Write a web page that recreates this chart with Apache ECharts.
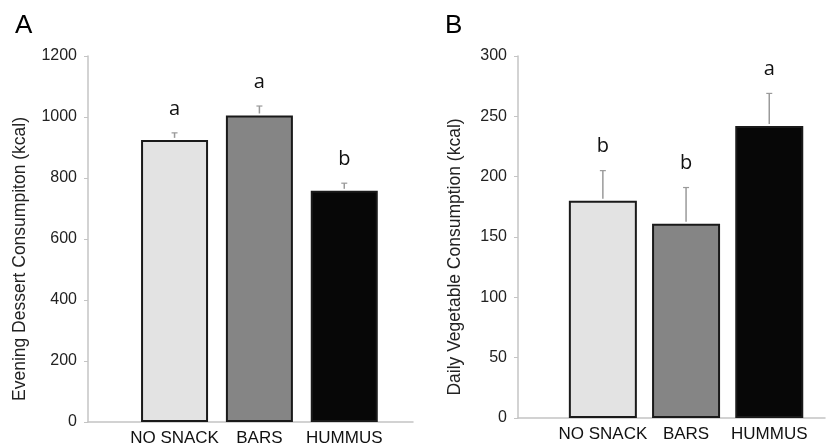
<!DOCTYPE html>
<html><head><meta charset="utf-8">
<script src="https://cdn.jsdelivr.net/npm/echarts@6/dist/echarts.min.js"></script>
<style>html,body{margin:0;padding:0;background:#fff}#c{width:830px;height:448px}</style>
</head><body><div id="c"></div>
<script>
const categories = ['NO SNACK', 'BARS', 'HUMMUS'];
const dessertValues = [925, 1005, 758];
const dessertErrors = [23, 31, 25];
const dessertLetters = ['a', 'a', 'b'];
const vegValues = [180, 161, 242];
const vegErrors = [25, 30, 27];
const vegLetters = ['b', 'b', 'a'];
const barColors = ['#e3e3e3', '#858585', '#070707'];
const dessertTicks = [0, 200, 400, 600, 800, 1000, 1200];
const vegTicks = [0, 50, 100, 150, 200, 250, 300];

const chart = echarts.init(document.getElementById('c'), null, {renderer: 'canvas'});
const FONT = 'Liberation Sans, Arial, sans-serif';

function barData(vals) {
  return vals.map((v, i) => ({value: [i, v], itemStyle: {color: barColors[i]}}));
}
function errData(vals, errs) {
  return vals.map((v, i) => [i, v, errs[i]]);
}
function errRender(letters) {
  return function (params, api) {
    const i = api.value(0), v = api.value(1), e = api.value(2);
    const p0 = api.coord([i, v]);
    const p1 = api.coord([i, v + e]);
    return {
      type: 'group',
      children: [
        {type: 'line', shape: {x1: p0[0], y1: p0[1] - 2, x2: p1[0], y2: p1[1]}, style: {stroke: '#9a9a9a', lineWidth: 1.5}},
        {type: 'line', shape: {x1: p1[0] - 3, y1: p1[1], x2: p1[0] + 3, y2: p1[1]}, style: {stroke: '#9a9a9a', lineWidth: 1.2}},
        {type: 'text', x: p1[0], y: p1[1] - 24, style: {text: letters[params.dataIndex], fill: '#111', font: '20px "Open Sans", sans-serif', align: 'center', verticalAlign: 'middle'}}
      ]
    };
  };
}
function xAxisCfg(gridIndex, min, max) {
  return {
    type: 'value', gridIndex, min, max,
    axisLine: {show: true, onZero: false, lineStyle: {color: '#c4c4c4', width: 1.5}},
    axisTick: {show: false},
    splitLine: {show: false},
    axisLabel: {
      customValues: [0, 1, 2],
      formatter: v => categories[Math.round(v)],
      color: '#111', fontSize: 17, fontFamily: FONT, margin: 8
    }
  };
}
function yAxisCfg(gridIndex, ticks, name, nameGap) {
  return {
    type: 'value', gridIndex,
    min: ticks[0], max: ticks[ticks.length - 1], interval: ticks[1] - ticks[0],
    name, nameLocation: 'middle', nameGap,
    nameTextStyle: {color: '#222', fontSize: 17.5, fontFamily: FONT, padding: [0, 40, 0, 0]},
    axisLine: {show: true, onZero: false, lineStyle: {color: '#c4c4c4', width: 1.5}},
    axisTick: {show: true, length: 4, lineStyle: {color: '#c4c4c4'}},
    splitLine: {show: false},
    axisLabel: {color: '#222', fontSize: 16, fontFamily: FONT, margin: 11, formatter: v => String(v)}
  };
}

chart.setOption({
  animation: false,
  title: [
    {text: 'A', left: 10, top: 8, textStyle: {fontSize: 26, fontWeight: 'normal', color: '#000', fontFamily: FONT}},
    {text: 'B', left: 440, top: 8, textStyle: {fontSize: 26, fontWeight: 'normal', color: '#000', fontFamily: FONT}}
  ],
  grid: [
    {left: 88, top: 56, width: 325, height: 366},
    {left: 518, top: 56, width: 307, height: 362}
  ],
  xAxis: [xAxisCfg(0, -1.02, 2.81), xAxisCfg(1, -1.02, 2.67)],
  yAxis: [
    yAxisCfg(0, dessertTicks, 'Evening Dessert Consumpiton (kcal)', 59),
    yAxisCfg(1, vegTicks, 'Daily Vegetable Consumption (kcal)', 54)
  ],
  series: [
    {type: 'bar', xAxisIndex: 0, yAxisIndex: 0, barWidth: 67, data: barData(dessertValues),
     itemStyle: {borderColor: '#1a1a1a', borderWidth: 2}},
    {type: 'custom', xAxisIndex: 0, yAxisIndex: 0, data: errData(dessertValues, dessertErrors), renderItem: errRender(dessertLetters), z: 5},
    {type: 'bar', xAxisIndex: 1, yAxisIndex: 1, barWidth: 68, data: barData(vegValues),
     itemStyle: {borderColor: '#1a1a1a', borderWidth: 2}},
    {type: 'custom', xAxisIndex: 1, yAxisIndex: 1, data: errData(vegValues, vegErrors), renderItem: errRender(vegLetters), z: 5}
  ]
});
</script>
</body></html>
